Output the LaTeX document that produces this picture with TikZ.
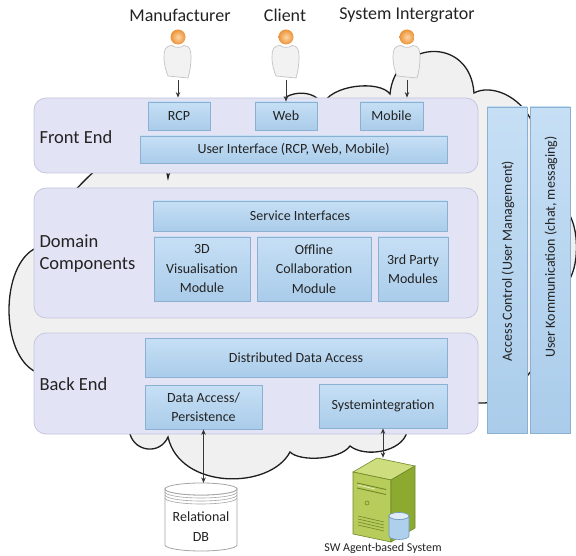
\documentclass[tikz,border=0pt]{standalone}
\usepackage{fontspec}
\setmainfont{Carlito}
\usetikzlibrary{arrows.meta}

\definecolor{cloudfill}{RGB}{240,240,240}
\definecolor{cloudline}{RGB}{30,30,30}
\definecolor{panelfill}{RGB}{227,227,246}
\definecolor{panelline}{RGB}{198,198,222}
\definecolor{boxtop}{RGB}{198,223,245}
\definecolor{boxbot}{RGB}{170,204,234}
\definecolor{boxline}{RGB}{138,176,210}
\definecolor{ink}{RGB}{35,35,35}
\definecolor{arrowgray}{RGB}{55,55,55}
\definecolor{headlight}{RGB}{253,214,165}
\definecolor{headorange}{RGB}{236,146,56}
\definecolor{bodyfill}{RGB}{242,242,242}
\definecolor{bodyline}{RGB}{195,195,195}
\definecolor{dbline}{RGB}{165,165,165}
\definecolor{srvfront}{RGB}{184,204,92}
\definecolor{srvside}{RGB}{140,170,48}
\definecolor{srvtop}{RGB}{206,222,126}
\definecolor{srvline}{RGB}{110,135,40}
\definecolor{diskfill}{RGB}{175,208,236}
\definecolor{diskline}{RGB}{110,150,190}

\tikzset{
  layer/.style={draw=panelline, line width=0.8pt, fill=panelfill,
    rounded corners=12pt, minimum width=444pt, inner sep=0pt},
  layerlabel/.style={anchor=west, align=left, text=ink,
    font=\fontsize{18.5}{22}\selectfont},
  module/.style={draw=boxline, line width=0.7pt, top color=boxtop,
    bottom color=boxbot, inner sep=1pt, align=center, text=ink,
    font=\fontsize{14}{19.5}\selectfont},
  sidebar/.style={module, minimum width=40pt, minimum height=326pt},
  barlabel/.style={rotate=90, text=ink, font=\fontsize{14}{16}\selectfont},
  rolelabel/.style={text=ink, font=\fontsize{18}{20}\selectfont},
  flow/.style={draw=arrowgray, line width=0.8pt,
    -{Stealth[length=5.5pt,width=4.5pt]}},
  twoway/.style={draw=arrowgray, line width=0.8pt,
    {Stealth[length=5.5pt,width=4.5pt]}-{Stealth[length=5.5pt,width=4.5pt]}},
  actor/.pic={
    \path[fill=bodyfill, draw=bodyline, line width=0.7pt]
      (-6,8.5) .. controls (-13,9) and (-14,13) .. (-14,20)
      .. controls (-14,28) and (-12,34) .. (-10,39) -- (10,41)
      .. controls (12,34) and (13,28) .. (13,20)
      .. controls (13,13) and (12,9) .. (6,8.5)
      .. controls (3,11) and (-3,11) .. (-6,8.5) -- cycle;
    \shade[inner color=headlight, outer color=headorange] (0,0) circle (7.5);
  }
}

\begin{document}
\begin{tikzpicture}[x=1pt,y=-1pt]
\useasboundingbox (0,0) rectangle (576,556);

% cloud behind the layers
\path[fill=cloudfill, draw=cloudline, line width=1.3pt]
  (36,372) .. controls (0,355) and (0,265) .. (36,248)
  .. controls (30,215) and (50,200) .. (68,198)
  .. controls (85,180) and (110,150) .. (140,150)
  .. controls (158,150) and (166,165) .. (168,178)
  .. controls (170,160) and (220,120) .. (275,112)
  .. controls (280,88) and (318,88) .. (322,106)
  .. controls (330,84) and (380,80) .. (390,94)
  .. controls (395,40) and (470,35) .. (474,93)
  .. controls (490,84) and (520,95) .. (532,122)
  .. controls (560,130) and (565,180) .. (566,210)
  .. controls (580,225) and (580,270) .. (566,284)
  .. controls (565,330) and (540,360) .. (528,375)
  .. controls (515,395) and (500,403) .. (482,403)
  .. controls (450,403) and (415,410) .. (407,432)
  .. controls (402,452) and (365,458) .. (350,446)
  .. controls (340,460) and (300,462) .. (290,452)
  .. controls (270,490) and (180,490) .. (168,437)
  .. controls (160,455) and (135,452) .. (130,434)
  .. controls (100,400) and (60,400) .. (36,372) -- cycle;

% layers
\node[layer, minimum height=75pt]  (fe) at (256,135.5) {};
\node[layer, minimum height=130pt] (dc) at (256,253) {};
\node[layer, minimum height=101pt] (be) at (256,383.5) {};

\node[layerlabel] (felab) at (36,137) {Front End};
\node[layerlabel] (dclab) at (36,254) {Domain\\Components};
\node[layerlabel] (belab) at (36,384) {Back End};

% front end modules
\node[module, minimum width=62pt, minimum height=28pt] (rcp) at (179,116) {RCP};
\node[module, minimum width=62pt, minimum height=28pt] (web) at (286,116) {Web};
\node[module, minimum width=63pt, minimum height=28pt] (mob) at (391.5,116) {Mobile};
\node[module, minimum width=307pt, minimum height=27pt] (ui) at (293.5,149.5) {User Interface (RCP, Web, Mobile)};

% domain modules
\node[module, minimum width=294pt, minimum height=30pt] (svc) at (300,216) {Service Interfaces};
\node[module, minimum width=96pt, minimum height=64pt] (viz) at (202,269) {3D\\Visualisation\\Module};
\node[module, minimum width=114pt, minimum height=64pt] (off) at (314,269) {Offline\\Collaboration\\Module};
\node[module, minimum width=70pt, minimum height=64pt] (third) at (413,269) {3rd Party\\Modules};

% back end modules
\node[module, minimum width=302pt, minimum height=39pt] (dda) at (296,357.5) {Distributed Data Access};
\node[module, minimum width=117pt, minimum height=44pt] (dap) at (203.5,407) {Data Access/\\Persistence};
\node[module, minimum width=128pt, minimum height=44pt] (sys) at (383,406) {Systemintegration};

% cross-cutting bars
\node[sidebar] (acc) at (507,270) {};
\node[sidebar] (kom) at (550,270) {};
\node[barlabel] (acclab) at (508,261) {Access Control (User Management)};
\node[barlabel] (komlab) at (551,247) {User Kommunication (chat, messaging)};

% actors
\node[rolelabel] (manu) at (180,15) {Manufacturer};
\node[rolelabel] (client) at (285,15) {Client};
\node[rolelabel] (integ) at (407,15) {System Intergrator};
\pic at (178,37) {actor};
\pic at (286,37) {actor};
\pic at (407,37) {actor};
\coordinate (manufoot) at (178,80);
\coordinate (clientfoot) at (286,80);
\coordinate (integfoot) at (407,80);
\draw[flow] (manufoot) -- (manufoot |- fe.north);
\draw[flow] (clientfoot) -- (clientfoot |- web.north);
\draw[flow] (integfoot) -- (integfoot |- fe.north);

% relational database
\path[fill=white, draw=dbline, line width=0.8pt]
  (165,489) -- (165,545) arc[start angle=180, end angle=0, x radius=36, y radius=6]
  -- (237,489) arc[start angle=0, end angle=180, x radius=36, y radius=6] -- cycle;
\draw[dbline, line width=0.8pt, fill=white] (201,489) ellipse[x radius=36, y radius=6];
\draw[dbline, line width=0.6pt] (165,492) arc[start angle=180, end angle=0, x radius=36, y radius=6];
\draw[dbline, line width=0.6pt] (165,495) arc[start angle=180, end angle=0, x radius=36, y radius=6];
\draw[dbline, line width=0.6pt] (165,498) arc[start angle=180, end angle=0, x radius=36, y radius=6];
\node[align=center, text=ink, font=\fontsize{14}{20}\selectfont] (db) at (201,527) {Relational\\DB};
\coordinate (dbtop) at (203,483);
\draw[twoway] (dap.south) -- (dap.south |- dbtop);

% agent server
\path[fill=srvtop, draw=srvline, line width=0.6pt]
  (353,472) -- (377,458) -- (415,466) -- (391,480) -- cycle;
\path[fill=srvfront, draw=srvline, line width=0.6pt]
  (353,472) -- (391,480) -- (391,542) -- (353,534) -- cycle;
\path[fill=srvside, draw=srvline, line width=0.6pt]
  (391,480) -- (415,466) -- (415,528) -- (391,542) -- cycle;
\draw[srvline, line width=0.9pt] (357,483) -- (386,489.5);
\draw[srvline, line width=0.9pt] (357,488) -- (386,494.5);
\draw[white!80!srvfront, line width=0.6pt] (358,485) -- (375,489);
\draw[srvline, line width=0.6pt] (367,503) circle (2);
\foreach \k in {0,3,6,9} {
  \draw[srvline, line width=0.6pt] (358,516+\k) -- (384,522+\k);
}
\path[fill=diskfill, draw=diskline, line width=0.6pt]
  (389,516) -- (389,536) arc[start angle=180, end angle=0, x radius=10, y radius=3.5]
  -- (409,516) arc[start angle=0, end angle=180, x radius=10, y radius=3.5] -- cycle;
\draw[diskline, line width=0.6pt, fill=white!60!diskfill] (399,516) ellipse[x radius=10, y radius=3.5];
\node[inner sep=0pt, minimum width=62pt, minimum height=84pt] (server) at (384,500) {};
\node[text=ink, font=\fontsize{12}{14}\selectfont] (srvlab) at (383,548) {SW Agent-based System};
\draw[twoway] (sys.south) -- (sys.south |- server.north);
\end{tikzpicture}
\end{document}
